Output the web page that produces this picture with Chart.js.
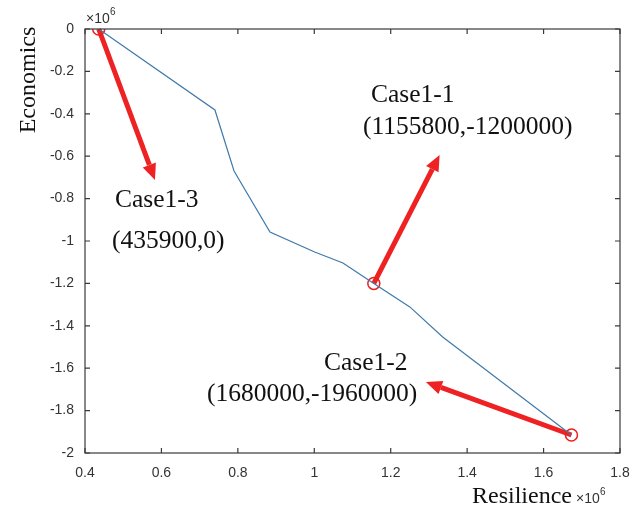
<!DOCTYPE html>
<html>
<head>
<meta charset="utf-8">
<style>
  html, body { margin: 0; padding: 0; background: #fff; }
  #paretoChart { display: block; }
</style>
<script src="https://cdn.jsdelivr.net/npm/chart.js"></script>
</head>
<body>
<canvas id="paretoChart" width="642" height="510"></canvas>
<script>
// front (raw units, axes shown in x10^6)
const resilience = [435900, 740000, 790000, 884000, 1001000, 1075000, 1155800, 1250000, 1336000, 1673000];
const economics = [0, -382000, -670000, -958000, -1052000, -1104000, -1200000, -1311000, -1453000, -1915000];

// highlighted cases
const caseNames = ['Case1-1', 'Case1-2', 'Case1-3'];
const caseLabels = ['(1155800,-1200000)', '(1680000,-1960000)', '(435900,0)'];
const caseX = [1155800, 1673000, 435900];
const caseY = [-1200000, -1915000, 0];
// arrow tips (data units)
const arrowTipX = [1328000, 1292000, 583000];
const arrowTipY = [-594000, -1665000, -712000];

const xTicks = [0.4, 0.6, 0.8, 1, 1.2, 1.4, 1.6, 1.8];
const yTicks = [0, -0.2, -0.4, -0.6, -0.8, -1, -1.2, -1.4, -1.6, -1.8, -2];

const axisColor = '#3a3a3a';
const serif = '"Liberation Serif", "Times New Roman", serif';
const sans = '"Liberation Sans", Arial, sans-serif';

function drawArrow(ctx, x0, y0, x1, y1) {
    const ang = Math.atan2(y1 - y0, x1 - x0);
    const headLen = 16, headW = 7;
    const bx = x1 - headLen * Math.cos(ang), by = y1 - headLen * Math.sin(ang);
    ctx.strokeStyle = '#ee2222';
    ctx.fillStyle = '#ee2222';
    ctx.lineWidth = 5;
    ctx.lineCap = 'butt';
    ctx.beginPath();
    ctx.moveTo(x0, y0);
    ctx.lineTo(bx, by);
    ctx.stroke();
    ctx.beginPath();
    ctx.moveTo(x1, y1);
    ctx.lineTo(bx + headW * Math.sin(ang), by - headW * Math.cos(ang));
    ctx.lineTo(bx - headW * Math.sin(ang), by + headW * Math.cos(ang));
    ctx.closePath();
    ctx.fill();
}

const matlabFrame = {
    id: 'matlabFrame',
    beforeDatasetsDraw(chart) {
        const { ctx, scales: { x, y } } = chart;
        ctx.save();
        caseX.forEach((cx, i) => {
            drawArrow(ctx, x.getPixelForValue(cx), y.getPixelForValue(caseY[i]),
                x.getPixelForValue(arrowTipX[i]), y.getPixelForValue(arrowTipY[i]));
        });
        ctx.restore();
    },
    afterDraw(chart) {
        const { ctx, chartArea: a, scales: { x, y } } = chart;
        ctx.save();
        // box + inward ticks on all sides
        ctx.strokeStyle = axisColor;
        ctx.lineWidth = 1.2;
        ctx.strokeRect(a.left, a.top, a.right - a.left, a.bottom - a.top);
        ctx.beginPath();
        xTicks.forEach(t => {
            const px = x.getPixelForValue(t * 1e6);
            ctx.moveTo(px, a.bottom); ctx.lineTo(px, a.bottom - 5);
            ctx.moveTo(px, a.top); ctx.lineTo(px, a.top + 5);
        });
        yTicks.forEach(t => {
            const py = y.getPixelForValue(t * 1e6);
            ctx.moveTo(a.left, py); ctx.lineTo(a.left + 5, py);
            ctx.moveTo(a.right, py); ctx.lineTo(a.right - 5, py);
        });
        ctx.stroke();

        // exponent markers
        ctx.fillStyle = '#333';
        ctx.textBaseline = 'alphabetic';
        ctx.textAlign = 'left';
        ctx.font = '14px ' + sans;
        ctx.fillText('\u00d710', 86, 23);
        ctx.fillText('\u00d710', 576, 503);
        ctx.font = '10px ' + sans;
        ctx.fillText('6', 110, 15);
        ctx.fillText('6', 600, 495);

        // axis titles
        ctx.fillStyle = '#111';
        ctx.font = '24px ' + serif;
        ctx.fillText('Resilience', 472, 503);
        ctx.save();
        ctx.translate(35, 80);
        ctx.rotate(-Math.PI / 2);
        ctx.textAlign = 'center';
        ctx.fillText('Economics', 0, 0);
        ctx.restore();

        // case annotations
        const namePos = [[371, 102], [324, 370], [115, 207]];
        const labelPos = [[363, 134], [207, 401], [112, 248]];
        ctx.font = '25.5px ' + serif;
        ctx.textAlign = 'left';
        caseNames.forEach((n, i) => {
            ctx.fillText(n, namePos[i][0], namePos[i][1]);
            ctx.fillText(caseLabels[i], labelPos[i][0], labelPos[i][1]);
        });
        ctx.restore();
    }
};

const frontPoints = resilience.map((r, i) => ({ x: r, y: economics[i] }));
const casePoints = caseX.map((cx, i) => ({ x: cx, y: caseY[i] }));

new Chart(document.getElementById('paretoChart').getContext('2d'), {
    type: 'scatter',
    data: {
        datasets: [{
            label: 'Pareto front',
            data: frontPoints,
            showLine: true,
            borderColor: '#3f7aaa',
            borderWidth: 1.2,
            pointRadius: 0,
            tension: 0
        }, {
            label: 'Cases',
            data: casePoints,
            showLine: false,
            pointRadius: 6,
            pointBorderWidth: 1.5,
            borderColor: '#ee1c1c',
            backgroundColor: 'rgba(0,0,0,0)'
        }]
    },
    options: {
        responsive: false,
        animation: false,
        layout: { padding: { top: 29, right: 22, left: 0, bottom: 0 } },
        plugins: { legend: { display: false }, tooltip: { enabled: false } },
        scales: {
            x: {
                type: 'linear',
                min: 400000,
                max: 1800000,
                afterFit: s => { s.height = 57; },
                afterBuildTicks: s => { s.ticks = xTicks.map(v => ({ value: v * 1e6 })); },
                grid: { display: false, drawTicks: false },
                border: { display: false },
                ticks: {
                    padding: 12,
                    color: '#333',
                    font: { family: sans, size: 14 },
                    maxRotation: 0,
                    callback: v => String(Math.round(v / 1e5) / 10)
                }
            },
            y: {
                type: 'linear',
                min: -2000000,
                max: 0,
                afterFit: s => { s.width = 85; },
                afterBuildTicks: s => { s.ticks = yTicks.map(v => ({ value: v * 1e6 })); },
                grid: { display: false, drawTicks: false },
                border: { display: false },
                ticks: {
                    padding: 11,
                    color: '#333',
                    font: { family: sans, size: 14 },
                    callback: v => String(Math.round(v / 1e5) / 10)
                }
            }
        }
    },
    plugins: [matlabFrame]
});
</script>
</body>
</html>
